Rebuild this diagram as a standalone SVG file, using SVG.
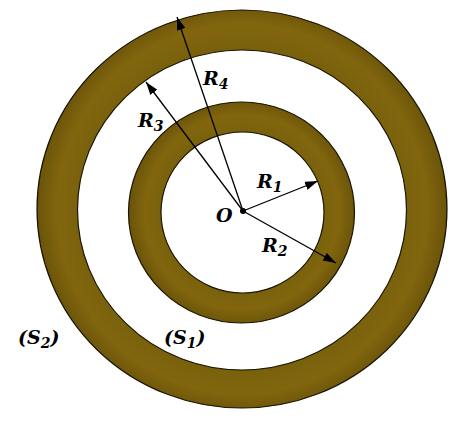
<svg xmlns="http://www.w3.org/2000/svg" width="451" height="421" viewBox="0 0 451 421">
<defs>
<marker id="ah" viewBox="0 0 12 8" refX="12" refY="4" markerWidth="13" markerHeight="9" markerUnits="userSpaceOnUse" orient="auto">
<path d="M0,0 L12,4 L0,8 z" fill="#000"/>
</marker>
<radialGradient id="g2" cx="242" cy="209" r="205" gradientUnits="userSpaceOnUse">
<stop offset="0.78" stop-color="#78600c"/>
<stop offset="0.9" stop-color="#82660e"/>
<stop offset="1" stop-color="#6b540a"/>
</radialGradient>
<radialGradient id="g1" cx="242" cy="212" r="113" gradientUnits="userSpaceOnUse">
<stop offset="0.7" stop-color="#78600c"/>
<stop offset="0.86" stop-color="#82660e"/>
<stop offset="1" stop-color="#6b540a"/>
</radialGradient>
</defs>
<style>
.ring{stroke:#1a1400;stroke-width:1.2}
.hole{fill:#fff;stroke:#1a1400;stroke-width:1.2}
.conn line{stroke:#000;stroke-width:1.3;marker-end:url(#ah)}
text{font-family:"DejaVu Serif","Liberation Serif",serif;font-style:italic;font-weight:bold;font-size:19px;fill:#000}
.sub{font-size:14px}
</style>
<rect width="451" height="421" fill="#fff"/>
<g id="S2">
<ellipse class="ring" cx="242" cy="209" rx="205" ry="199" fill="url(#g2)"/>
<ellipse class="hole" cx="242" cy="210" rx="164.5" ry="160"/>
</g>
<g id="S1">
<ellipse class="ring" cx="241.5" cy="212.5" rx="113" ry="110.5" fill="url(#g1)"/>
<ellipse class="hole" cx="242.5" cy="212.5" rx="81.5" ry="80.5"/>
</g>
<g class="conn" id="connectors">
<line x1="243" y1="211" x2="177" y2="17"/>
<line x1="243" y1="211" x2="146" y2="82"/>
<line x1="243" y1="211" x2="318" y2="181"/>
<line x1="243" y1="211" x2="336" y2="263"/>
</g>
<g id="O">
<circle cx="243" cy="211" r="3" fill="#000"/>
<text x="216" y="222">O</text>
</g>
<g id="labels">
<text x="203" y="85">R<tspan class="sub" dy="4">4</tspan></text>
<text x="138" y="127">R<tspan class="sub" dy="4">3</tspan></text>
<text x="257" y="188">R<tspan class="sub" dy="4">1</tspan></text>
<text x="262" y="252">R<tspan class="sub" dy="4">2</tspan></text>
<text x="18" y="344">(S<tspan class="sub" dy="4">2</tspan><tspan dy="-4">)</tspan></text>
<text x="164" y="344">(S<tspan class="sub" dy="4">1</tspan><tspan dy="-4">)</tspan></text>
</g>
</svg>
